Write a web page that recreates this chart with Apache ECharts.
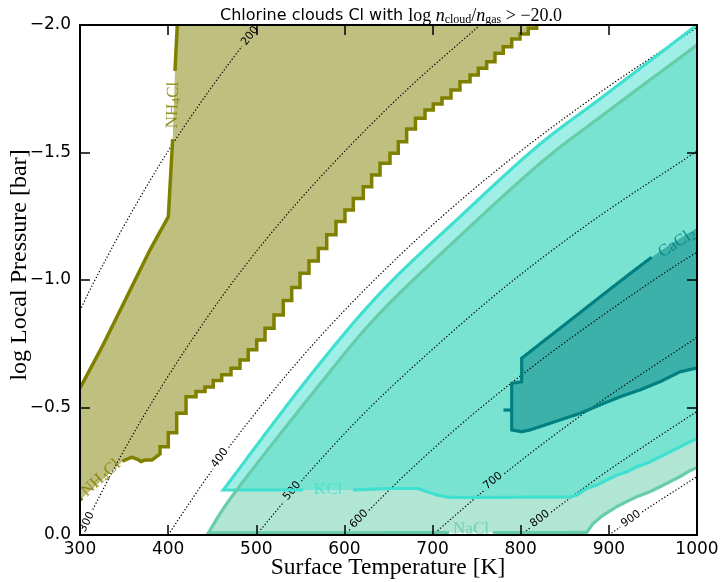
<!DOCTYPE html>
<html><head><meta charset="utf-8">
<script src="https://cdn.jsdelivr.net/npm/echarts@6/dist/echarts.min.js"></script>
<style>html,body{margin:0;padding:0;background:#fff}#c{width:720px;height:582px}</style>
</head><body><div id="c"></div>
<script>
// ---------------- data ----------------
const xTicks = [300, 400, 500, 600, 700, 800, 900, 1000];
const yTicks = [-2.0, -1.5, -1.0, -0.5, 0.0];
const xTitle = 'Surface Temperature [K]';
const yTitle = 'log Local Pressure [bar]';

// NH4Cl region
const nh4clLeftT = [300, 326.1, 379.4, 400.2, 405.2, 407.8, 410.4];
const nh4clLeftP = [-0.576, -0.745, -1.118, -1.248, -1.556, -1.824, -2.0];
const nh4clBottomT = [300, 322.7, 349.1, 358.7, 365.8, 369.2, 373.7, 381.7];
const nh4clBottomP = [-0.137, -0.208, -0.291, -0.305, -0.296, -0.288, -0.294, -0.294];
const nh4clStepT = [381.7, 390.8, 400.2, 409.7, 420.3, 431.6, 441.8, 451.2, 460.8, 471.3, 481.5, 490.9, 500.5, 509.9, 520.1, 530.6, 540.2, 549.6, 559.8, 570.4, 579.9, 590.4, 600.6, 610.1, 621.4, 630.9, 640.4, 651.7, 661.1, 670.6, 680.6, 691.4, 700.8, 710.7, 720.9, 731.1, 742.5, 751.9, 761.4, 770.8, 780.2, 789.8, 799.2, 808.6, 818.1];
const nh4clStepP = [-0.318, -0.346, -0.401, -0.477, -0.542, -0.563, -0.580, -0.606, -0.628, -0.654, -0.686, -0.726, -0.765, -0.811, -0.863, -0.920, -0.971, -1.026, -1.075, -1.124, -1.177, -1.229, -1.275, -1.320, -1.366, -1.412, -1.458, -1.497, -1.542, -1.592, -1.634, -1.667, -1.690, -1.714, -1.745, -1.777, -1.804, -1.830, -1.856, -1.889, -1.915, -1.945, -1.965, -1.987, -2.0];

// KCl region
const kclTopT = [462.6, 557.2, 640.4, 731.1, 818.5, 893.3, 1000];
const kclTopP = [-0.1765, -0.608, -0.948, -1.248, -1.523, -1.719, -2.0];
const kclBottomT = [462.6, 608.6, 649.4, 683.5, 693.7, 705.0, 716.4, 731.1, 855.9, 863.9, 875.2, 886.5, 897.9, 909.2, 920.6, 931.9, 943.3, 954.6, 966.0, 977.3, 988.7, 1000];
const kclBottomP = [-0.1765, -0.1765, -0.1824, -0.1824, -0.1698, -0.1569, -0.149, -0.147, -0.149, -0.157, -0.183, -0.196, -0.216, -0.235, -0.248, -0.268, -0.281, -0.301, -0.320, -0.340, -0.360, -0.378];

// NaCl region
const naclTopT = [445.6, 477.8, 576.0, 640.4, 731.1, 821.9, 893.3, 1000];
const naclTopP = [-0.008, -0.1765, -0.608, -0.8706, -1.1725, -1.4569, -1.6471, -1.9216];
const naclBottomT = [445.6, 874.9, 882.3, 893.7, 908.9, 920.2, 931.6, 946.7, 958.0, 969.4, 980.7, 992.1, 1000];
const naclBottomP = [-0.008, -0.01, -0.046, -0.078, -0.111, -0.131, -0.150, -0.170, -0.189, -0.209, -0.229, -0.252, -0.265];

// CaCl2 region
const cacl2TopT = [801.1, 844.6, 948.6, 1000];
const cacl2TopP = [-0.693, -0.8106, -1.089, -1.204];
const cacl2LeftT = [801.1, 801.1, 789.8, 789.8];
const cacl2LeftP = [-0.693, -0.601, -0.595, -0.412];
const cacl2BottomT = [789.8, 801.1, 810.5, 821.9, 844.6, 867.3, 889.9, 912.6, 935.3, 958.0, 980.7, 1000];
const cacl2BottomP = [-0.412, -0.405, -0.412, -0.425, -0.451, -0.477, -0.510, -0.542, -0.569, -0.601, -0.640, -0.655];
const cacl2TickT = [780.4, 789.8];
const cacl2TickP = [-0.49, -0.49];

// species labels
const speciesNames = ['NH4Cl', 'NH4Cl', 'KCl', 'NaCl', 'CaCl2'];
const speciesLabelT = [405.5, 323.8, 581.4, 743.6, 977.3];
const speciesLabelP = [-1.686, -0.2235, -0.1765, -0.0235, -1.145];

// dotted isotherms (local temperature contours)
const isoNames = ['200', '300', '400', '500', '600', '700', '800', '900'];
const iso200T = [300, 317, 356, 399, 448, 502];
const iso200P = [-0.88, -1.0, -1.25, -1.5, -1.75, -2.0];
const iso300T = [300, 337, 378, 424, 475, 533, 599, 672, 754];
const iso300P = [0, -0.25, -0.5, -0.75, -1.0, -1.25, -1.5, -1.75, -2.0];
const iso400T = [400, 449, 504, 565, 634, 711, 798, 896, 1000];
const iso400P = [0, -0.25, -0.5, -0.75, -1.0, -1.25, -1.5, -1.75, -1.99];
const iso500T = [500, 561, 629, 707, 792, 889, 1000];
const iso500P = [0, -0.25, -0.5, -0.75, -1.0, -1.25, -1.505];
const iso600T = [600, 673, 755, 848, 951, 1000];
const iso600P = [0, -0.25, -0.5, -0.75, -1.0, -1.109];
const iso700T = [700, 785, 881, 989, 1000];
const iso700P = [0, -0.25, -0.5, -0.75, -0.775];
const iso800T = [800, 898, 1000];
const iso800P = [0, -0.25, -0.485];
const iso900T = [900, 942, 1000];
const iso900P = [0, -0.1, -0.229];
const isoLabelT = [492.9, 307.9, 458.8, 540.5, 616.5, 768.5, 821.9, 925.1];
const isoLabelP = [-1.957, -0.051, -0.302, -0.173, -0.063, -0.212, -0.063, -0.063];

// ---------------- helpers ----------------
const zip = (ts, ps) => ts.map((t, i) => [t, ps[i]]);
const rev = a => a.slice().reverse();
function stairs(ts, ps) {
  const out = [];
  for (let i = 0; i < ts.length; i++) {
    out.push([ts[i], ps[i]]);
    if (i < ts.length - 1) out.push([ts[i + 1], ps[i]]);
  }
  return out;
}
// render-time curve smoothing in pixel space (Catmull-Rom through the read points)
function smoothPix(p, n) {
  n = n || 12;
  if (p.length < 3) return p.slice();
  const out = [p[0]];
  for (let i = 0; i < p.length - 1; i++) {
    const p0 = p[Math.max(0, i - 1)], p1 = p[i], p2 = p[i + 1], p3 = p[Math.min(p.length - 1, i + 2)];
    for (let k = 1; k <= n; k++) {
      const t = k / n, t2 = t * t, t3 = t2 * t;
      const f = (a, b, c, d) => 0.5 * (2 * b + (-a + c) * t + (2 * a - 5 * b + 4 * c - d) * t2 + (-a + 3 * b - 3 * c + d) * t3);
      out.push([f(p0[0], p1[0], p2[0], p3[0]), f(p0[1], p1[1], p2[1], p3[1])]);
    }
  }
  return out;
}
function cutGaps(pts, gaps) {
  const out = []; let cur = [];
  const inside = (x, y) => gaps.some(g => Math.hypot(x - g.x, y - g.y) < g.r);
  for (let i = 0; i < pts.length - 1; i++) {
    const [x0, y0] = pts[i], [x1, y1] = pts[i + 1];
    const n = Math.max(1, Math.ceil(Math.hypot(x1 - x0, y1 - y0)));
    for (let k = (i === 0 ? 0 : 1); k <= n; k++) {
      const t = k / n, x = x0 + (x1 - x0) * t, y = y0 + (y1 - y0) * t;
      if (inside(x, y)) { if (cur.length > 1) out.push(cur); cur = []; }
      else cur.push([x, y]);
    }
  }
  if (cur.length > 1) out.push(cur);
  return out;
}
function angleNear(pts, c) {
  let best = 1e9, ang = 0;
  for (let i = 0; i < pts.length - 1; i++) {
    const [x0, y0] = pts[i], [x1, y1] = pts[i + 1];
    const dx = x1 - x0, dy = y1 - y0, L2 = dx * dx + dy * dy || 1;
    let t = ((c[0] - x0) * dx + (c[1] - y0) * dy) / L2; t = Math.max(0, Math.min(1, t));
    const d = Math.hypot(x0 + t * dx - c[0], y0 + t * dy - c[1]);
    if (d < best) { best = d; ang = Math.atan2(-dy, dx); }
  }
  if (ang > Math.PI / 2) ang -= Math.PI;
  if (ang <= -Math.PI / 2) ang += Math.PI;
  return ang;
}

const isoLines = [zip(iso200T, iso200P), zip(iso300T, iso300P), zip(iso400T, iso400P), zip(iso500T, iso500P),
                  zip(iso600T, iso600P), zip(iso700T, iso700P), zip(iso800T, iso800P), zip(iso900T, iso900P)];

const OLIVE = '#808000', TURQ = '#40e0d0', AQUA = '#66cdaa', TEAL = '#008080';
const speciesColor = [OLIVE, OLIVE, TURQ, AQUA, TEAL];
const speciesGap = [34, 27, 24, 22, 29];

function renderAll(params, api) {
  const C = p => api.coord(p);
  const pix = arr => arr.map(C);
  const ch = [];

  // pixel geometry
  const nLeft = pix(zip(nh4clLeftT, nh4clLeftP));
  const nRight = pix(zip(nh4clBottomT, nh4clBottomP).concat(stairs(nh4clStepT, nh4clStepP).slice(1)));
  const nPoly = nLeft.concat(rev(nRight));

  const kTop = smoothPix(pix(zip(kclTopT, kclTopP))), kBot = pix(zip(kclBottomT, kclBottomP));
  const kPoly = kTop.concat(rev(kBot)), kEdge = rev(kTop).concat(kBot.slice(1));

  const sTop = smoothPix(pix(zip(naclTopT, naclTopP))), sBot = pix(zip(naclBottomT, naclBottomP));
  const sPoly = sTop.concat(rev(sBot)), sEdge = rev(sTop).concat(sBot.slice(1));

  const cTop = smoothPix(pix(zip(cacl2TopT, cacl2TopP))), cLeft = pix(zip(cacl2LeftT, cacl2LeftP)), cBot = pix(zip(cacl2BottomT, cacl2BottomP));
  const cPoly = cTop.concat(rev(cBot), rev(cLeft));
  const cEdge = rev(cBot).concat(rev(cLeft).slice(1), cTop.slice(1));

  const poly = (pts, fill) => ch.push({ type: 'polygon', shape: { points: pts }, style: { fill: fill, stroke: null }, silent: true });
  poly(sPoly, 'rgba(102,205,170,0.5)');
  poly(kPoly, 'rgba(64,224,208,0.5)');
  poly(nPoly, 'rgba(128,128,0,0.5)');
  poly(cPoly, 'rgba(0,128,128,0.5)');

  // isotherms
  isoLines.forEach((line, i) => {
    const pp = smoothPix(pix(line));
    const c = C([isoLabelT[i], isoLabelP[i]]);
    cutGaps(pp, [{ x: c[0], y: c[1], r: 13 }]).forEach(seg => ch.push({
      type: 'polyline', shape: { points: seg },
      style: { stroke: '#000', lineWidth: 1.2, lineDash: [1.3, 2], fill: null }, silent: true }));
    ch.push({ type: 'text', x: c[0], y: c[1], rotation: angleNear(pp, c), silent: true,
      style: { text: isoNames[i], fontFamily: 'DejaVu Sans', fontSize: 11, fill: '#000', align: 'center', verticalAlign: 'middle' } });
  });

  // edges
  const edgeLines = [nLeft, nRight, kEdge, sEdge, cEdge];
  const edgeColor = [OLIVE, OLIVE, TURQ, AQUA, TEAL];
  const edgeWidth = [3.5, 3.5, 3.2, 3.2, 3.2];
  const labelPix = speciesLabelT.map((t, i) => C([t, speciesLabelP[i]]));
  const gaps = labelPix.map((c, i) => ({ x: c[0], y: c[1], r: speciesGap[i] }));
  edgeLines.forEach((pp, i) => {
    cutGaps(pp, gaps).forEach(seg => ch.push({ type: 'polyline', shape: { points: seg },
      style: { stroke: edgeColor[i], lineWidth: edgeWidth[i], fill: null, lineJoin: 'miter' }, silent: true }));
  });
  ch.push({ type: 'polyline', shape: { points: pix(zip(cacl2TickT, cacl2TickP)) }, style: { stroke: TEAL, lineWidth: 3.2, fill: null }, silent: true });

  // species labels
  labelPix.forEach((c, i) => {
    const name = speciesNames[i];
    const m = name.match(/^([A-Za-z]+?)(\d)(.*)$/);
    const txt = m ? '{a|' + m[1] + '}{s|' + m[2] + '}' + (m[3] ? '{a|' + m[3] + '}' : '') : '{a|' + name + '}';
    const col = speciesColor[i];
    ch.push({ type: 'text', x: c[0], y: c[1], rotation: angleNear(edgeLines[i], c), silent: true,
      style: { text: txt, align: 'center', verticalAlign: 'middle', fill: col, opacity: 0.85,
        rich: { a: { fontFamily: 'Liberation Serif', fontSize: 17, fill: col },
                s: { fontFamily: 'Liberation Serif', fontSize: 12, fill: col, padding: [7, 0, 0, 0] } } } });
  });
  return { type: 'group', children: ch };
}

const fmtY = v => (Math.abs(v) < 1e-9 ? '0.0' : (v < 0 ? '\u2212' : '') + Math.abs(v).toFixed(1));
const fmtX = v => String(Math.round(v));
const axisCommon = {
  z: 10, splitLine: { show: false },
  axisLine: { show: true, onZero: false, lineStyle: { color: '#000', width: 2 } },
  axisTick: { show: true, inside: true, length: 10, lineStyle: { color: '#000', width: 1.5 } }
};

const chart = echarts.init(document.getElementById('c'), null, { renderer: 'canvas' });
chart.setOption({
  animation: false,
  backgroundColor: '#fff',
  title: {
    left: 215, top: 1,
    text: '{s|Chlorine clouds Cl with }{m|log }{i|n}{b|cloud}{m|/}{i|n}{b|gas}{m| > \u221220.0}',
    textStyle: { fontWeight: 'normal', rich: {
      s: { fontFamily: 'DejaVu Sans', fontSize: 16, color: '#000', fontWeight: 'normal' },
      m: { fontFamily: 'Liberation Serif', fontSize: 18, color: '#000', fontWeight: 'normal' },
      i: { fontFamily: 'Liberation Serif', fontSize: 18, fontStyle: 'italic', color: '#000', fontWeight: 'normal' },
      b: { fontFamily: 'Liberation Serif', fontSize: 12, color: '#000', fontWeight: 'normal', padding: [8, 0, 0, 0] }
    } }
  },
  graphic: [
    { type: 'text', x: 388, y: 568, silent: true,
      style: { text: xTitle, fontFamily: 'Liberation Serif', fontSize: 23.5, fill: '#000', align: 'center', verticalAlign: 'middle' } },
    { type: 'text', x: 20, y: 265, rotation: Math.PI / 2, silent: true,
      style: { text: yTitle, fontFamily: 'Liberation Serif', fontSize: 24, fill: '#000', align: 'center', verticalAlign: 'middle' } }
  ],
  grid: { left: 80, right: 23, top: 25, bottom: 47, containLabel: false, outerBoundsMode: 'none' },
  xAxis: [
    Object.assign({}, axisCommon, { type: 'value', position: 'bottom', min: xTicks[0], max: xTicks[xTicks.length - 1], interval: 100,
      axisLabel: { color: '#000', fontFamily: 'DejaVu Sans', fontSize: 17, margin: 6, formatter: fmtX, showMinLabel: true, showMaxLabel: true } }),
    Object.assign({}, axisCommon, { type: 'value', position: 'top', min: xTicks[0], max: xTicks[xTicks.length - 1], interval: 100,
      axisLabel: { show: false } })
  ],
  yAxis: [
    Object.assign({}, axisCommon, { type: 'value', position: 'left', inverse: true, min: yTicks[0], max: yTicks[yTicks.length - 1], interval: 0.5,
      axisLabel: { color: '#000', fontFamily: 'DejaVu Sans', fontSize: 17, margin: 9, formatter: fmtY, showMinLabel: true, showMaxLabel: true } }),
    Object.assign({}, axisCommon, { type: 'value', position: 'right', inverse: true, min: yTicks[0], max: yTicks[yTicks.length - 1], interval: 0.5,
      axisLabel: { show: false } })
  ],
  series: [{
    type: 'custom', coordinateSystem: 'cartesian2d', xAxisIndex: 0, yAxisIndex: 0, clip: true, silent: true,
    data: [[xTicks[0], yTicks[0]]], renderItem: renderAll
  }]
});
</script></body></html>
